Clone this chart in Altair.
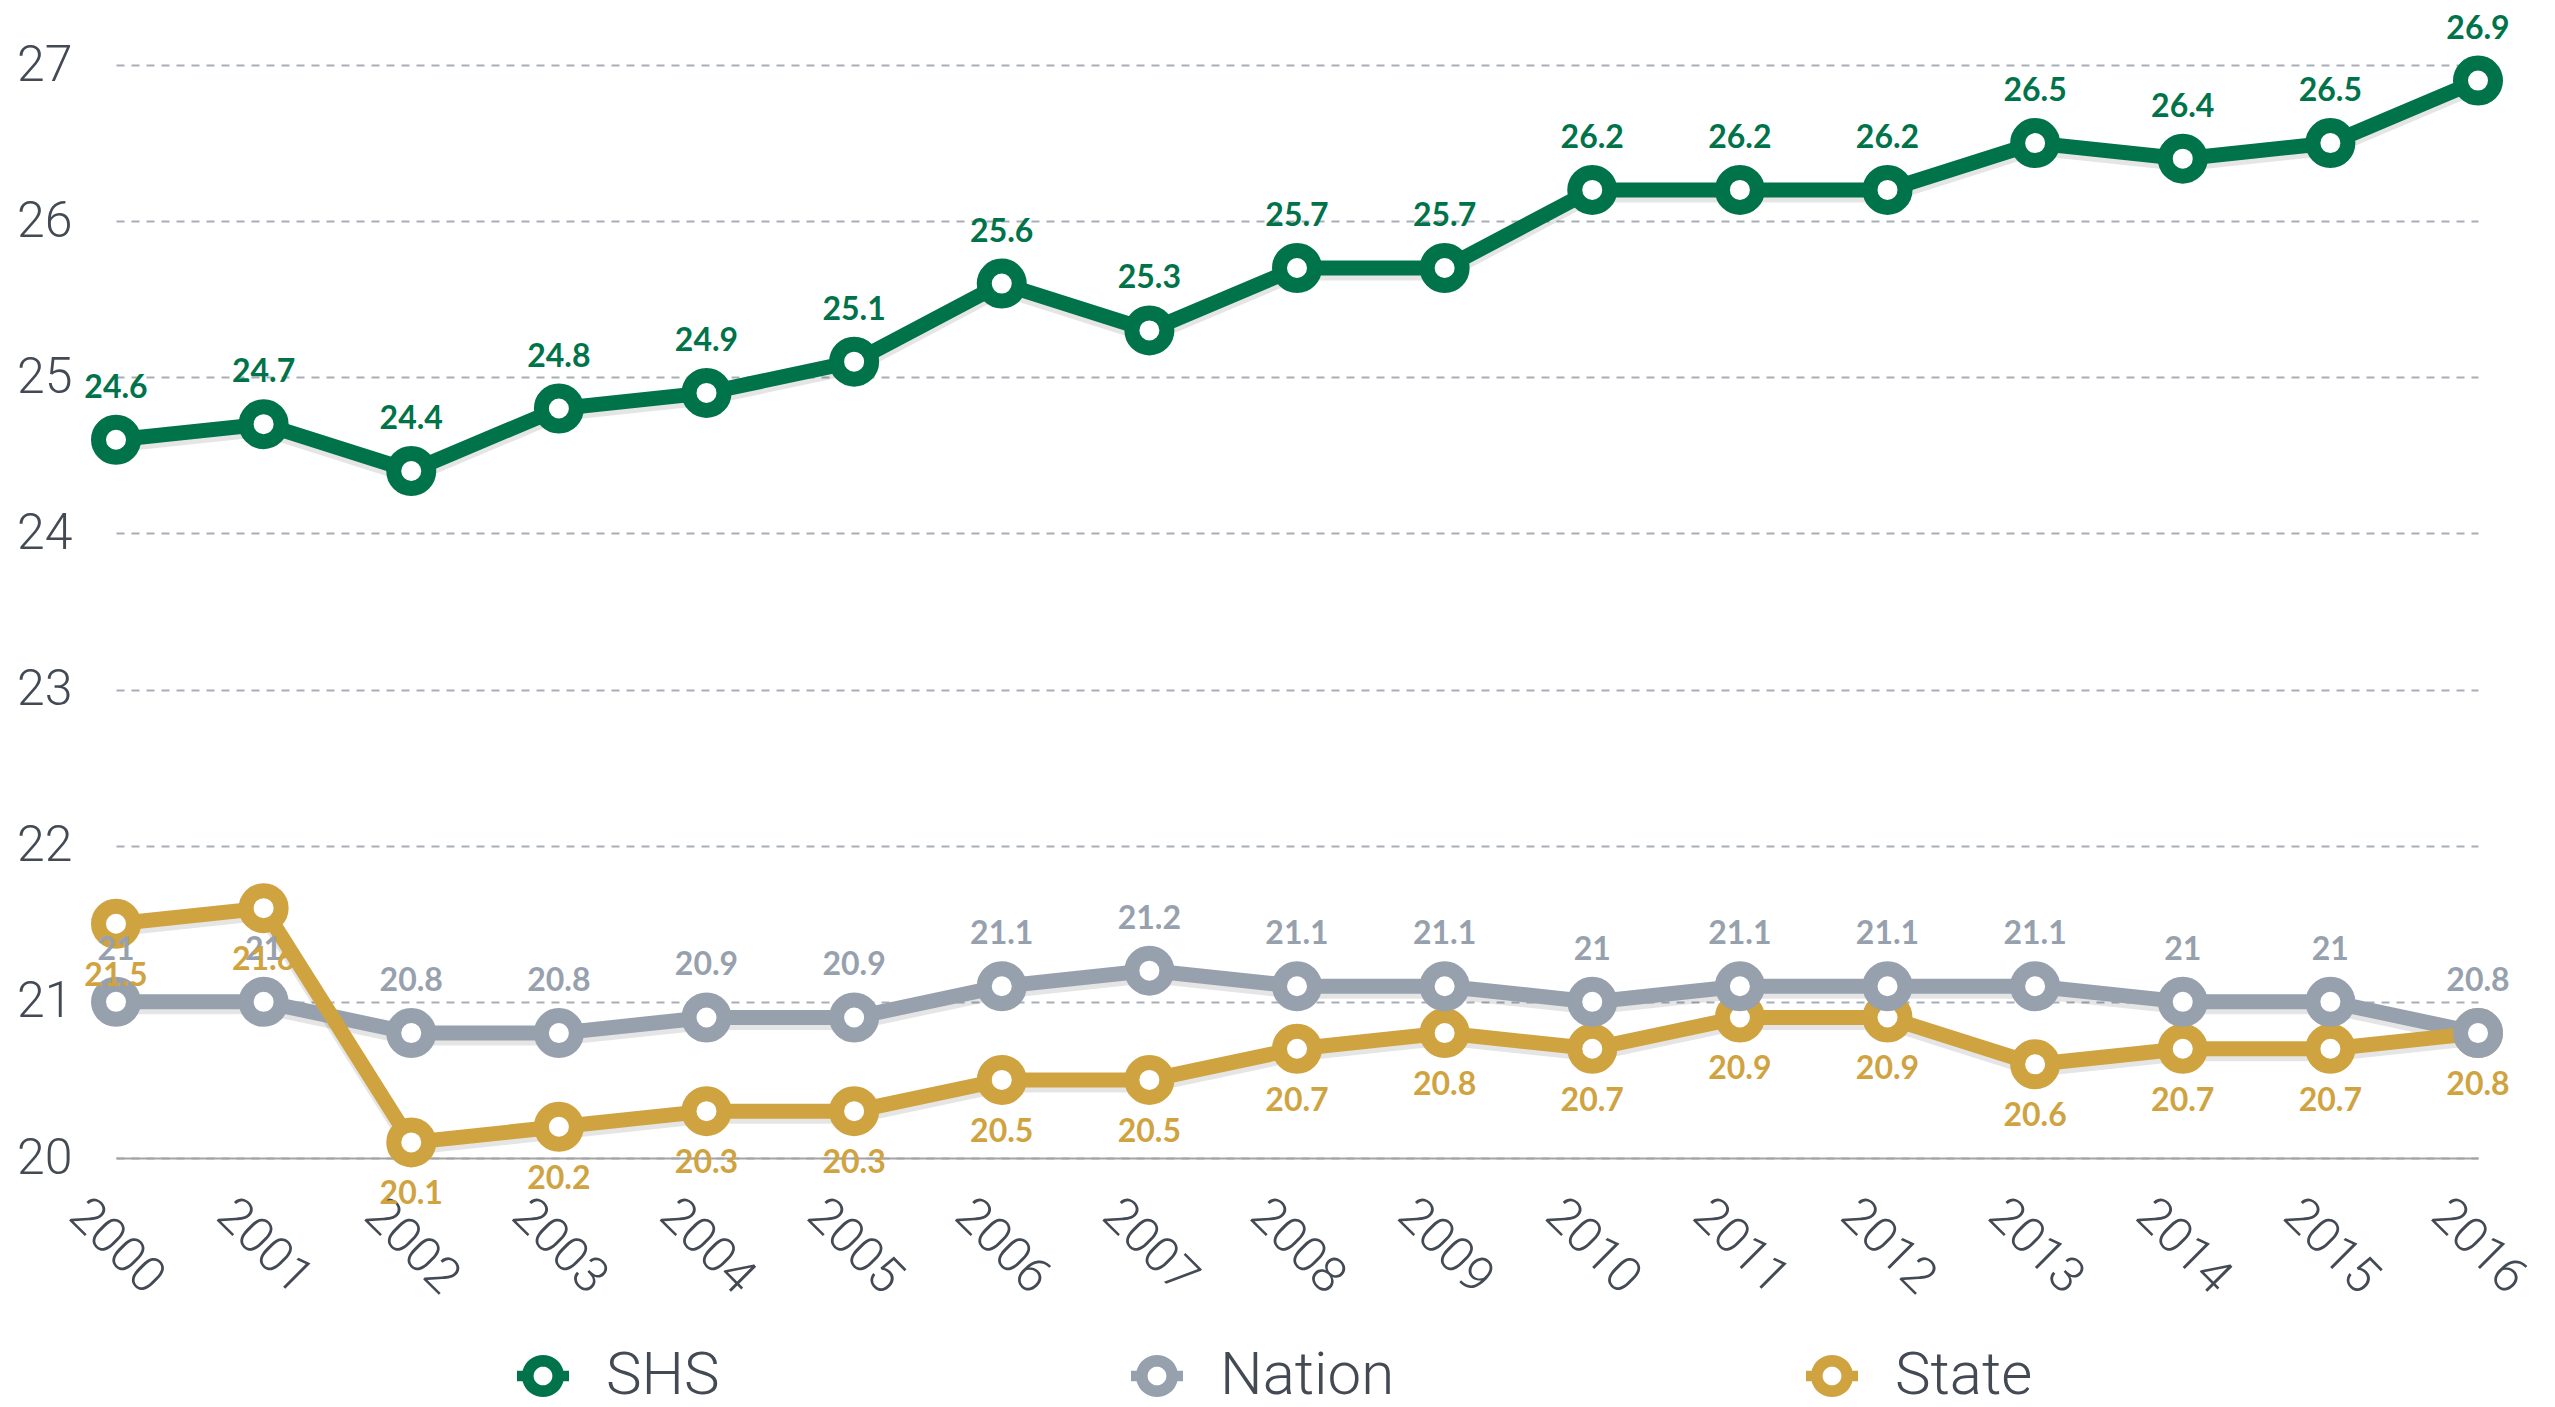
import math
import altair as alt
import pandas as pd

years = ["2000", "2001", "2002", "2003", "2004", "2005", "2006", "2007", "2008",
         "2009", "2010", "2011", "2012", "2013", "2014", "2015", "2016"]
shs = [24.6, 24.7, 24.4, 24.8, 24.9, 25.1, 25.6, 25.3, 25.7, 25.7, 26.2, 26.2, 26.2, 26.5, 26.4, 26.5, 26.9]
nation = [21, 21, 20.8, 20.8, 20.9, 20.9, 21.1, 21.2, 21.1, 21.1, 21, 21.1, 21.1, 21.1, 21, 21, 20.8]
state = [21.5, 21.6, 20.1, 20.2, 20.3, 20.3, 20.5, 20.5, 20.7, 20.8, 20.7, 20.9, 20.9, 20.6, 20.7, 20.7, 20.8]
series_names = ["SHS", "Nation", "State"]
series_colors = ["#00734a", "#97a1ae", "#cfa33f"]
y_ticks = [20, 21, 22, 23, 24, 25, 26, 27]

rows = []
for name, vals, z in [("SHS", shs, 3), ("Nation", nation, 2), ("State", state, 1)]:
    for yr, v in zip(years, vals):
        rows.append({"year": yr, "series": name, "value": v, "label": f"{v:g}", "z": z})
df = pd.DataFrame(rows)

TEXT = "#434a54"
color_scale = alt.Scale(domain=series_names, range=series_colors)


def _circle(r, reverse=False, n=40):
    idx = range(n, -1, -1) if reverse else range(n + 1)
    pts = [(r * math.cos(2 * math.pi * i / n), r * math.sin(2 * math.pi * i / n)) for i in idx]
    return "M " + " L ".join(f"{x:.4f} {y:.4f}" for x, y in pts) + " Z"


# legend glyph: ring with short line stubs on both sides (filled shape, hole via winding)
legend_path = " ".join([
    _circle(0.81),
    _circle(0.36, reverse=True),
    "M 0.7 -0.2 L 1 -0.2 L 1 0.2 L 0.7 0.2 Z",
    "M -1 -0.2 L -0.7 -0.2 L -0.7 0.2 L -1 0.2 Z",
])

x_enc = alt.X("year:O", sort=years, scale=alt.Scale(type="point", padding=0),
              axis=alt.Axis(title=None, labelAngle=45, labelAlign="center", labelBaseline="middle",
                            labelPadding=88, ticks=False, tickSize=0, domain=True,
                            domainColor="#a3a3a3", domainWidth=2, grid=False,
                            labelFont="Roboto", labelFontSize=50, labelFontWeight=300,
                            labelColor=TEXT))
y_enc = alt.Y("value:Q", scale=alt.Scale(domain=[20, 27], nice=False, zero=False),
              axis=alt.Axis(title=None, values=y_ticks, grid=True, gridDash=[8, 7],
                            gridColor="#a8aeb8", gridWidth=2, domain=False, ticks=False,
                            labelFont="Roboto", labelFontSize=50, labelFontWeight=300,
                            labelColor=TEXT, labelPadding=44))

legend = alt.Legend(title=None, orient="none", legendX=397, legendY=1281,
                    direction="horizontal", symbolType=legend_path,
                    symbolSize=2704, symbolStrokeWidth=0,
                    labelFont="Roboto", labelFontSize=60, labelFontWeight=300,
                    labelLimit=600, labelColor=TEXT, labelOffset=33,
                    columnPadding=407, padding=0, symbolOpacity=1)

base = alt.Chart(df).encode(x=x_enc, y=y_enc)

shadow = base.mark_line(strokeWidth=15, color="#000000", opacity=0.10, yOffset=5).encode(
    detail="series:N")
# legend carrier: draws nothing, only supplies the legend for the shared colour scale
legend_layer = base.mark_point(filled=True, strokeWidth=0, opacity=1).encode(
    color=alt.Color("series:N", scale=color_scale, legend=legend)
).transform_filter(alt.datum.value < 0)
lines = base.mark_line(strokeWidth=15).encode(
    color=alt.Color("series:N", scale=color_scale, legend=None))
points = base.mark_point(shape="circle", size=1225, filled=False, fill="white",
                         fillOpacity=1, strokeWidth=15, opacity=1).encode(
    color=alt.Color("series:N", scale=color_scale, legend=None),
    order=alt.Order("z:Q"))

labels_up = base.mark_text(dy=-52, font="Lato", fontSize=32, fontWeight="bold",
                           baseline="middle", align="center").encode(
    text="label:N", color=alt.Color("series:N", scale=color_scale, legend=None)
).transform_filter(alt.datum.series != "State")
labels_down = base.mark_text(dy=52, font="Lato", fontSize=32, fontWeight="bold",
                             baseline="middle", align="center").encode(
    text="label:N", color=alt.Color("series:N", scale=color_scale, legend=None)
).transform_filter(alt.datum.series == "State")

chart = alt.layer(shadow, legend_layer, lines, points, labels_up, labels_down).properties(
    width=2362, height=1093,
    padding={"left": 8, "top": 4, "right": 5, "bottom": 4}
).configure(background="white").configure_view(stroke=None)

chart.save("out.html", embed_options={"renderer": "svg", "actions": False})
